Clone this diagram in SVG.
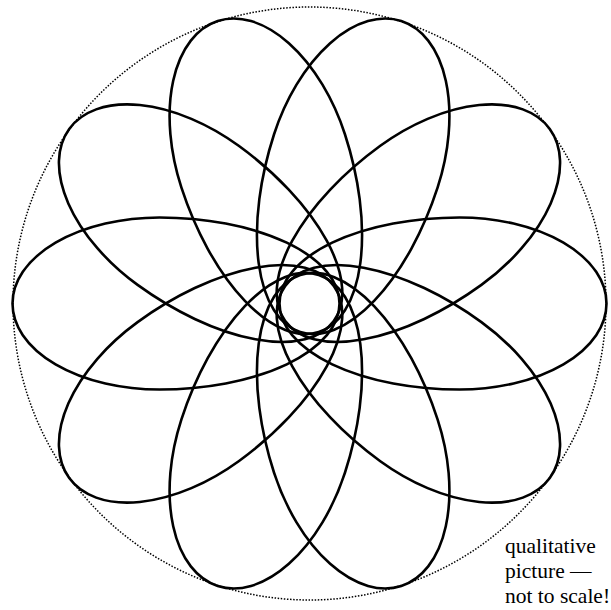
<svg xmlns="http://www.w3.org/2000/svg" xmlns:xlink="http://www.w3.org/1999/xlink" width="611" height="610" viewBox="0 0 611 610">
<style>
.orbit{fill:none;stroke:#000;stroke-width:2.6}
.bound{fill:none;stroke:#000;stroke-width:1.5;stroke-dasharray:1.5 1.6}
.note{font-family:"Liberation Serif","Times New Roman",serif;font-size:21.5px;fill:#000}
</style>
<defs>
<path id="petal" d="M606.5,303.5 A147,86 0 0 0 459.5,217.5 A180,86 0 0 0 279.5,303.5 A180,86 0 0 0 459.5,389.5 A147,86 0 0 0 606.5,303.5 Z"/>
</defs>
<rect width="611" height="610" fill="#fff"/>
<circle id="boundary" class="bound" cx="309.5" cy="303.5" r="296.5"/>
<g id="orbits" class="orbit">
<use xlink:href="#petal" href="#petal" transform="rotate(0 309.5 303.5)"/>
<use xlink:href="#petal" href="#petal" transform="rotate(-36 309.5 303.5)"/>
<use xlink:href="#petal" href="#petal" transform="rotate(-72 309.5 303.5)"/>
<use xlink:href="#petal" href="#petal" transform="rotate(-108 309.5 303.5)"/>
<use xlink:href="#petal" href="#petal" transform="rotate(-144 309.5 303.5)"/>
<use xlink:href="#petal" href="#petal" transform="rotate(-180 309.5 303.5)"/>
<use xlink:href="#petal" href="#petal" transform="rotate(-216 309.5 303.5)"/>
<use xlink:href="#petal" href="#petal" transform="rotate(-252 309.5 303.5)"/>
<use xlink:href="#petal" href="#petal" transform="rotate(-288 309.5 303.5)"/>
<use xlink:href="#petal" href="#petal" transform="rotate(-324 309.5 303.5)"/>
</g>
<g id="label" class="note">
<text x="505" y="553">qualitative</text>
<text x="505" y="578">picture —</text>
<text x="505" y="603">not to scale!</text>
</g>
</svg>
